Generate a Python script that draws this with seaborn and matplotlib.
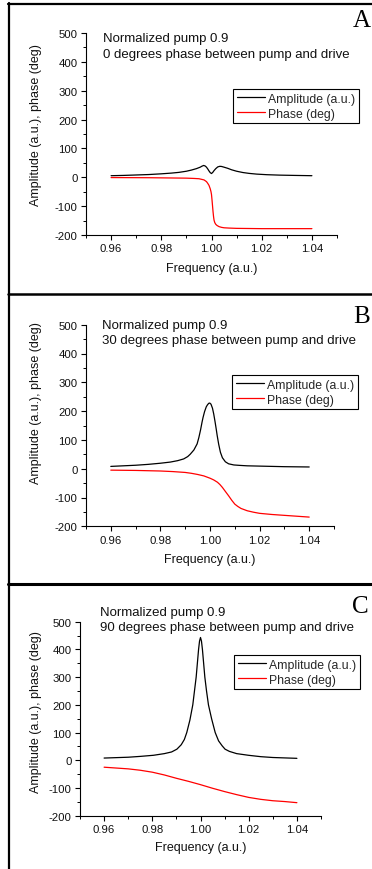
import numpy as np
import pandas as pd
import matplotlib
matplotlib.use("Agg")
import matplotlib.pyplot as plt
from matplotlib.lines import Line2D
from matplotlib.ticker import MultipleLocator, FormatStrFormatter
import seaborn as sns

# ---------------- data ----------------
freq_amp_a = [0.960, 0.965, 0.970, 0.975, 0.980, 0.984, 0.987, 0.990, 0.992, 0.994,
              0.9955, 0.9962, 0.9969, 0.9975, 0.998, 0.9985, 0.999, 0.9995, 1.000, 1.0005,
              1.001, 1.0017, 1.0025, 1.0033, 1.004, 1.005, 1.0065, 1.008, 1.010, 1.0125,
              1.015, 1.018, 1.022, 1.027, 1.033, 1.040]
amp_a = [5.5, 6.5, 8, 9.5, 12, 14.5, 17, 21, 25, 30,
         35, 38.5, 41, 39, 35, 29, 22, 16, 13, 17,
         23, 30, 36, 38, 37.5, 35, 31, 26, 21, 16.5,
         13.5, 11, 9, 7.5, 6.5, 5.5]
freq_phase_a = [0.960, 0.975, 0.985, 0.990, 0.993, 0.995, 0.996, 0.997, 0.9975, 0.998,
                0.9985, 0.999, 0.9995, 0.9998, 1.000, 1.0002, 1.0004, 1.0006, 1.0008, 1.001,
                1.0013, 1.0017, 1.0022, 1.003, 1.004, 1.005, 1.007, 1.010, 1.020, 1.040]
phase_a = [-1, -1.5, -2.5, -3, -4, -5, -7, -9, -12, -15,
           -21, -28, -40, -50, -60, -78, -98, -118, -135, -148,
           -157, -163, -167, -171, -173.5, -175, -176, -177, -178, -178]

freq_amp_b = [0.960, 0.965, 0.970, 0.975, 0.980, 0.984, 0.987, 0.9894, 0.991, 0.992,
              0.9935, 0.9948, 0.9955, 0.9962, 0.9968, 0.9972, 0.9978, 0.9985, 0.999, 0.9995,
              0.9999, 1.0004, 1.001, 1.0015, 1.002, 1.0025, 1.0029, 1.0035, 1.0042, 1.005,
              1.0062, 1.0075, 1.0096, 1.012, 1.015, 1.020, 1.025, 1.030, 1.035, 1.040]
amp_b = [8, 10, 12, 15, 19, 23, 28, 34, 42, 50,
         65, 86, 108, 135, 162, 178, 198, 215, 222, 227,
         228, 224, 210, 190, 165, 138, 115, 85, 57, 38,
         24, 17, 13, 11.5, 10, 9, 8, 7, 6.5, 6]
freq_phase_b = [0.960, 0.965, 0.970, 0.975, 0.980, 0.985, 0.990, 0.9925, 0.995, 0.9975,
                1.000, 1.0015, 1.003, 1.004, 1.005, 1.0062, 1.0075, 1.0088, 1.010, 1.0112,
                1.0125, 1.015, 1.0175, 1.020, 1.025, 1.030, 1.035, 1.040]
phase_b = [-5, -5.5, -6, -7, -8, -10, -13, -16, -20, -25,
           -33, -39, -47, -55, -65, -79, -94, -110, -123, -131,
           -138, -146, -151, -155, -159, -162, -165, -168]

freq_amp_c = [0.960, 0.965, 0.970, 0.975, 0.9805, 0.985, 0.988, 0.9902, 0.992, 0.9933,
              0.9943, 0.9956, 0.9968, 0.9975, 0.9982, 0.9987, 0.9992, 0.9996, 1.000, 1.0004,
              1.0008, 1.0013, 1.0018, 1.0025, 1.0033, 1.0046, 1.0061, 1.0075, 1.009, 1.0102,
              1.012, 1.015, 1.0199, 1.025, 1.030, 1.035, 1.040]
amp_c = [8, 9.5, 11, 14, 18, 24, 30, 40, 56, 75,
         100, 145, 200, 250, 300, 350, 400, 430, 443, 430,
         400, 350, 300, 250, 200, 150, 100, 70, 52, 40,
         32, 24, 18, 13, 10, 8.5, 7]
freq_phase_c = [0.960, 0.965, 0.970, 0.975, 0.980, 0.985, 0.990, 0.995, 1.000, 1.005,
                1.010, 1.015, 1.020, 1.025, 1.030, 1.035, 1.040]
phase_c = [-25, -28, -31, -36, -43, -53, -65, -76, -88, -101,
           -113, -124, -134, -141, -146, -149, -153]

x_ticks = [0.96, 0.98, 1.00, 1.02, 1.04]
y_ticks = [-200, -100, 0, 100, 200, 300, 400, 500]
series_labels = ["Amplitude (a.u.)", "Phase (deg)"]
panel_letters = ["A", "B", "C"]
phase_degrees = [0, 30, 90]
pump_text = "Normalized pump 0.9"

# ---------------- style ----------------
sns.set_theme(style="ticks")
plt.rcParams["font.family"] = ["Liberation Sans", "DejaVu Sans"]
plt.rcParams["axes.unicode_minus"] = False

W, H = 372, 870
fig = plt.figure(figsize=(W / 100, H / 100), dpi=100)
fig.patch.set_facecolor("white")


def fx(px):
    return px / W


def fy(py):
    return 1 - py / H


# axes rectangles in pixels: left, right, top, bottom
ax_px = [(86, 337, 34, 236), (86, 334, 325.7, 527.3), (80, 321, 622.7, 816.7)]
legend_px = [(233, 90), (232, 376), (234, 656)]
text_px = [(103.3, 41.7, 58.0), (101.7, 329.0, 344.3), (100.0, 616.0, 630.7)]
letter_px = [(352.7, 27.3), (353.3, 323.3), (351.7, 613.3)]
ylabel_y = [0.549, 0.617, 0.541]

data = [
    (freq_amp_a, amp_a, freq_phase_a, phase_a),
    (freq_amp_b, amp_b, freq_phase_b, phase_b),
    (freq_amp_c, amp_c, freq_phase_c, phase_c),
]

for i, (fa, a, fp, p) in enumerate(data):
    l, r, t, b = ax_px[i]
    ax = fig.add_axes([fx(l), fy(b), (r - l) / W, (b - t) / H])
    ax.set_facecolor("white")
    df_a = pd.DataFrame({"freq": fa, "val": a})
    df_p = pd.DataFrame({"freq": fp, "val": p})
    sns.lineplot(data=df_a, x="freq", y="val", ax=ax, color="black", lw=0.9,
                 label=series_labels[0])
    sns.lineplot(data=df_p, x="freq", y="val", ax=ax, color="#ff0000", lw=0.9,
                 label=series_labels[1])
    ax.set_xlim(0.95, 1.05)
    ax.set_ylim(-200, 500)
    ax.set_xticks(x_ticks)
    ax.set_yticks(y_ticks)
    ax.xaxis.set_major_formatter(FormatStrFormatter("%.2f"))
    ax.xaxis.set_minor_locator(MultipleLocator(0.01))
    ax.yaxis.set_minor_locator(MultipleLocator(50))
    ax.tick_params(which="major", direction="out", length=3.5, width=0.8,
                   labelsize=8.2, pad=2.5, color="black", labelcolor="#111111")
    ax.tick_params(which="minor", direction="out", length=2, width=0.7, color="black")
    sns.despine(ax=ax)
    for s in ("left", "bottom"):
        ax.spines[s].set_color("black")
        ax.spines[s].set_linewidth(0.8)
    ax.set_xlabel("Frequency (a.u.)", fontsize=9, color="#111111")
    ax.set_ylabel("Amplitude (a.u.), phase (deg)", fontsize=9, color="#111111")
    ax.xaxis.set_label_coords(0.5, -0.132)
    ax.yaxis.set_label_coords((42.5 - l) / (r - l), ylabel_y[i])
    ax.grid(False)

    lx, ly = legend_px[i]
    leg = ax.legend(loc="upper left", bbox_to_anchor=(fx(lx), fy(ly)),
                    bbox_transform=fig.transFigure, frameon=True, fancybox=False,
                    edgecolor="black", framealpha=1, borderpad=0.3, handlelength=2.3,
                    handletextpad=0.3, labelspacing=0.25, borderaxespad=0,
                    fontsize=8.8)
    leg.get_frame().set_linewidth(0.8)

    tx, b1, b2 = text_px[i]
    fig.text(fx(tx), fy(b1), pump_text, fontsize=9.5, va="baseline", ha="left",
             color="#111111")
    fig.text(fx(tx), fy(b2), f"{phase_degrees[i]} degrees phase between pump and drive",
             fontsize=9.5, va="baseline", ha="left", color="#111111")
    cx, cy = letter_px[i]
    fig.text(fx(cx), fy(cy), panel_letters[i], fontsize=18, va="baseline", ha="left",
             family=["Liberation Serif", "DejaVu Serif"], color="black")

# panel frame lines
fig.add_artist(Line2D([fx(9), fx(9)], [fy(4), fy(870)], color="black", lw=1.6))
fig.add_artist(Line2D([fx(8), fx(372)], [fy(5), fy(5)], color="black", lw=1.6))
fig.add_artist(Line2D([fx(8), fx(372)], [fy(295), fy(295)], color="black", lw=1.8))
fig.add_artist(Line2D([fx(8), fx(372)], [fy(584.5), fy(584.5)], color="black", lw=2.2))

fig.savefig("out.png", dpi=100, facecolor="white")
